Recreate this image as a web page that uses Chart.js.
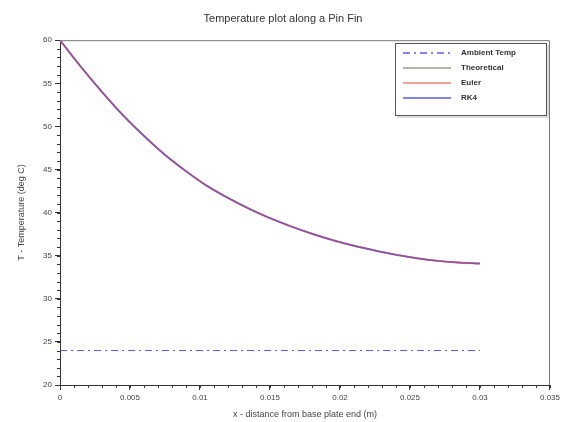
<!DOCTYPE html>
<html>
<head>
<meta charset="utf-8">
<script src="https://cdn.jsdelivr.net/npm/chart.js@4/dist/chart.umd.min.js"></script>
<style>
    html, body { margin: 0; padding: 0; background: #ffffff; }
    #wrap { width: 563px; height: 422px; position: relative; }
</style>
</head>
<body>
<div id="wrap"><canvas id="finChart"></canvas></div>
<script>
// --- Data ---
const xPositions = [0, 0.0015, 0.003, 0.0045, 0.006, 0.0075, 0.009, 0.0105, 0.012, 0.0135,
    0.015, 0.0165, 0.018, 0.0195, 0.021, 0.0225, 0.024, 0.0255, 0.027, 0.0285, 0.03];
const theoreticalTemp = [60, 56.9, 54.0, 51.3, 48.9, 46.7, 44.8, 43.1, 41.7, 40.45,
    39.35, 38.4, 37.55, 36.8, 36.15, 35.6, 35.1, 34.7, 34.4, 34.2, 34.1];
const eulerTemp = [60, 56.9, 54.0, 51.3, 48.9, 46.7, 44.8, 43.1, 41.7, 40.45,
    39.35, 38.4, 37.55, 36.8, 36.15, 35.6, 35.1, 34.7, 34.4, 34.2, 34.1];
const rk4Temp = [60, 56.9, 54.0, 51.3, 48.9, 46.7, 44.8, 43.1, 41.7, 40.45,
    39.35, 38.4, 37.55, 36.8, 36.15, 35.6, 35.1, 34.7, 34.4, 34.2, 34.1];
const ambientX = [0, 0.03];
const ambientTemp = [24, 24];
const seriesLabels = ['Ambient Temp', 'Theoretical', 'Euler', 'RK4'];
const xTicks = [0, 0.005, 0.01, 0.015, 0.02, 0.025, 0.03, 0.035];
const yTicks = [20, 25, 30, 35, 40, 45, 50, 55, 60];

const toPoints = (xs, ys) => xs.map((x, i) => ({ x: x, y: ys[i] }));

// --- Minor ticks + frame + legend box (Scilab look) ---
const scilabDecor = {
    id: 'scilabDecor',
    afterDraw(chart) {
        const ctx = chart.ctx;
        const area = chart.chartArea;
        const xs = chart.scales.x;
        const ys = chart.scales.y;
        ctx.save();
        // frame top/right
        ctx.strokeStyle = '#777777';
        ctx.lineWidth = 1;
        ctx.beginPath();
        ctx.moveTo(area.left, area.top + 0.5);
        ctx.lineTo(area.right - 0.5, area.top + 0.5);
        ctx.lineTo(area.right - 0.5, area.bottom);
        ctx.stroke();
        // minor ticks
        ctx.strokeStyle = '#333333';
        ctx.beginPath();
        for (let v = 0; v <= 0.035 + 1e-9; v += 0.001) {
            const px = Math.round(xs.getPixelForValue(v)) + 0.5;
            ctx.moveTo(px, area.bottom);
            ctx.lineTo(px, area.bottom + 3);
        }
        for (let v = 20; v <= 60; v += 1) {
            const py = Math.round(ys.getPixelForValue(v)) + 0.5;
            ctx.moveTo(area.left, py);
            ctx.lineTo(area.left - 3, py);
        }
        ctx.stroke();

        // legend box
        const bx = 395, by = 43, bw = 151, bh = 72;
        ctx.fillStyle = '#ffffff';
        ctx.fillRect(bx, by, bw, bh);
        ctx.strokeStyle = '#555555';
        ctx.strokeRect(bx + 0.5, by + 0.5, bw, bh);
        ctx.strokeStyle = '#bbbbbb';
        ctx.beginPath();
        ctx.moveTo(bx + 2, by + bh + 2);
        ctx.lineTo(bx + bw + 2, by + bh + 2);
        ctx.lineTo(bx + bw + 2, by + 2);
        ctx.stroke();
        ctx.font = 'bold 8px "Liberation Sans", Arial, sans-serif';
        ctx.textBaseline = 'middle';
        chart.data.datasets.forEach((ds, i) => {
            const ly = by + 10 + i * 15;
            ctx.strokeStyle = ds.legendColor || ds.borderColor;
            ctx.lineWidth = 1.5;
            ctx.setLineDash(ds.borderDash || []);
            ctx.beginPath();
            ctx.moveTo(bx + 8, ly);
            ctx.lineTo(bx + 56, ly);
            ctx.stroke();
            ctx.setLineDash([]);
            ctx.fillStyle = '#333333';
            ctx.fillText(ds.label, bx + 66, ly);
        });
        ctx.restore();
    }
};

const ctx = document.getElementById('finChart').getContext('2d');
new Chart(ctx, {
    type: 'scatter',
    data: {
        datasets: [
            {
                label: seriesLabels[0],
                data: toPoints(ambientX, ambientTemp),
                showLine: true,
                borderColor: '#5a5aff',
                borderWidth: 1,
                borderDash: [7, 4, 2, 4],
                pointRadius: 0,
                order: 3
            },
            {
                label: seriesLabels[1],
                data: toPoints(xPositions, theoreticalTemp),
                showLine: true,
                borderColor: '#9a9a88',
                borderWidth: 2,
                pointRadius: 0,
                cubicInterpolationMode: 'monotone',
                order: 2
            },
            {
                label: seriesLabels[2],
                data: toPoints(xPositions, eulerTemp),
                showLine: true,
                borderColor: 'rgba(235,70,110,0.75)',
                legendColor: '#f08070',
                borderWidth: 1.6,
                pointRadius: 0,
                cubicInterpolationMode: 'monotone',
                order: 1
            },
            {
                label: seriesLabels[3],
                data: toPoints(xPositions, rk4Temp),
                showLine: true,
                borderColor: 'rgba(80,70,220,0.55)',
                legendColor: '#5a5aee',
                borderWidth: 1.4,
                pointRadius: 0,
                cubicInterpolationMode: 'monotone',
                order: 0
            }
        ]
    },
    options: {
        responsive: true,
        maintainAspectRatio: false,
        animation: false,
        layout: { padding: { top: 0, right: 13, left: 16, bottom: 2 } },
        plugins: {
            legend: { display: false },
            tooltip: { enabled: false },
            title: {
                display: true,
                text: 'Temperature plot along a Pin Fin',
                color: '#333333',
                font: { family: '"Liberation Sans", Arial, sans-serif', size: 11, weight: 'normal' },
                padding: { top: 12, bottom: 15 }
            }
        },
        scales: {
            x: {
                type: 'linear',
                min: 0,
                max: 0.035,
                afterBuildTicks: (scale) => { scale.ticks = xTicks.map(v => ({ value: v })); },
                afterFit: (scale) => { scale.height = 35; },
                ticks: {
                    color: '#444444',
                    padding: 3,
                    maxRotation: 0,
                    autoSkip: false,
                    font: { family: '"Liberation Sans", Arial, sans-serif', size: 8 },
                    callback: (v) => String(Math.round(v * 1000) / 1000)
                },
                grid: { drawOnChartArea: false, tickLength: 5, color: '#333333' },
                border: { color: '#333333' },
                title: {
                    display: true,
                    text: 'x - distance from base plate end (m)',
                    color: '#444444',
                    font: { family: '"Liberation Sans", Arial, sans-serif', size: 9 },
                    padding: { top: 4, bottom: 0 }
                }
            },
            y: {
                type: 'linear',
                min: 20,
                max: 60,
                afterBuildTicks: (scale) => { scale.ticks = yTicks.map(v => ({ value: v })); },
                afterFit: (scale) => { scale.width = 44; },
                ticks: {
                    color: '#444444',
                    padding: 3,
                    autoSkip: false,
                    font: { family: '"Liberation Sans", Arial, sans-serif', size: 8 }
                },
                grid: { drawOnChartArea: false, tickLength: 5, color: '#333333' },
                border: { color: '#333333' },
                title: {
                    display: true,
                    text: 'T - Temperature (deg C)',
                    color: '#444444',
                    font: { family: '"Liberation Sans", Arial, sans-serif', size: 9 },
                    padding: { top: 0, bottom: 4 }
                }
            }
        }
    },
    plugins: [scilabDecor]
});
</script>
</body>
</html>
